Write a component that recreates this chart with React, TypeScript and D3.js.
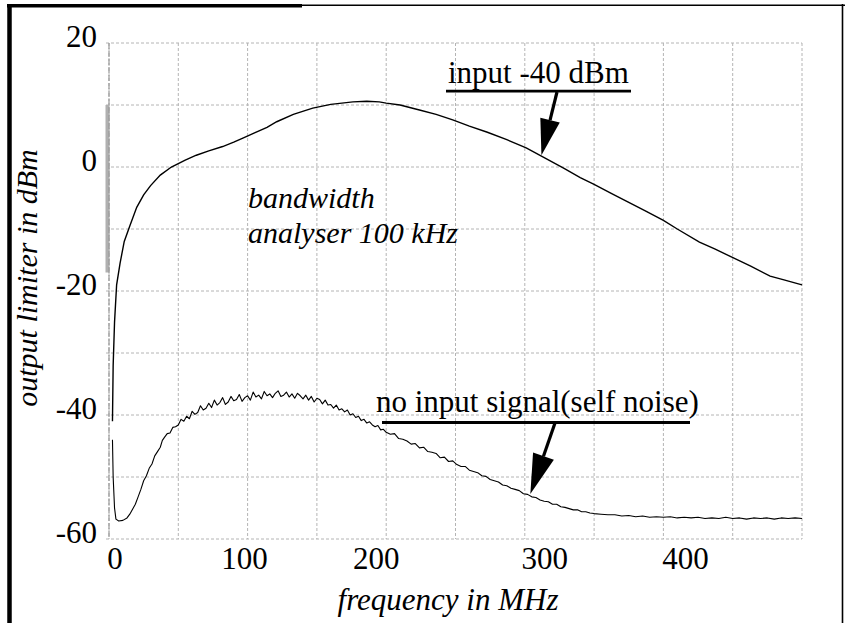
import React from "react";
import * as d3 from "d3";

// Output level of the limiter with a -40 dBm input, [MHz, dBm]
const inputSignal: [number, number][] = [
  [2.5, -41], [3, -32], [4, -25], [5.5, -19], [8, -15.5], [11, -12], [15, -9.5],
  [20, -6.5], [25, -4.5], [30, -3], [37, -1.3], [45, 0], [55, 1.1], [63, 1.9],
  [72, 2.6], [82, 3.3], [90, 4], [97, 4.7], [105, 5.5], [114, 6.4], [121, 7.3],
  [133, 8.5], [147, 9.5], [160, 10.1], [176, 10.5], [186, 10.6], [195, 10.5],
  [200, 10.3], [210, 10], [224, 9.2], [236, 8.5], [248, 7.6], [260, 6.6],
  [273, 5.6], [287, 4.4], [301, 3.1], [314, 1.5], [328, -0.2], [340, -1.7],
  [350, -2.8], [362, -4.2], [375, -5.7], [388, -7.2], [400, -8.6], [410, -10],
  [426, -12.1], [437, -13.2], [449, -14.5], [463, -16], [477, -17.6],
  [487, -18.2], [500, -19],
];

// Self noise of the limiter with no input signal, [MHz, dBm]
const selfNoise: [number, number][] = [
  [2.5, -44], [3, -50], [4, -55], [5, -56.8], [7, -57.1], [10, -57], [13, -56.6],
  [15, -56], [17, -55.2], [19, -54.4], [21, -53.2], [23, -52], [25, -50.6],
  [27, -49.8], [29, -48.6], [31, -47.9], [33, -46.6], [35, -45.9], [37, -45.2],
  [38.5, -44.1], [40, -43.6], [42, -43.0], [44, -42.9], [46, -42.0], [48, -41.9],
  [50, -41.6], [52, -40.7], [54, -41.0], [56, -40.2], [58, -40.6], [60, -39.4],
  [62, -39.9], [64, -39.6], [66, -38.5], [68, -39.2], [70, -38.9], [72, -38.1],
  [74, -38.8], [76, -37.6], [78, -38.4], [80, -38.0], [82, -37.2], [84, -38.3],
  [86, -37.9], [88, -37.0], [90, -37.7], [92, -37.5], [94, -36.7], [96, -37.8],
  [98, -37.2], [100, -36.9], [102, -37.6], [104, -36.3], [106, -37.1],
  [108, -36.8], [110, -37.4], [112, -36.2], [114, -36.9], [116, -36.6],
  [118, -37.2], [120, -36.5], [122, -36.1], [124, -37.0], [126, -36.8],
  [128, -36.3], [130, -37.1], [132, -36.6], [134, -37.3], [136, -36.5],
  [138, -36.9], [140, -37.4], [142, -36.8], [144, -37.6], [146, -37.0],
  [148, -37.9], [150, -37.3], [152, -37.5], [154, -38.2], [156, -37.6],
  [158, -38.4], [160, -38.3], [162, -38.9], [164, -38.4], [166, -39.2],
  [168, -39.0], [170, -39.5], [172, -39.2], [174, -40.0], [176, -39.8],
  [178, -40.4], [180, -40.2], [182, -40.9], [184, -40.7], [186, -41.3],
  [188, -41.1], [190, -41.6], [192, -41.9], [194, -41.7], [196, -42.4],
  [198, -42.3], [200, -42.8], [203, -43.1], [206, -43.0], [209, -43.8],
  [212, -43.9], [215, -44.2], [218, -44.7], [221, -44.6], [224, -45.3],
  [227, -45.2], [230, -45.9], [233, -46.0], [236, -46.2], [239, -46.9],
  [242, -46.8], [245, -47.5], [248, -47.4], [251, -48.0], [254, -48.3],
  [257, -48.3], [260, -48.9], [263, -49.1], [266, -49.3], [269, -49.8],
  [272, -49.9], [275, -50.4], [278, -50.6], [281, -50.8], [284, -51.3],
  [287, -51.4], [290, -51.8], [293, -52.0], [296, -52.2], [299, -52.7],
  [302, -52.8], [305, -53.2], [308, -53.3], [311, -53.7], [314, -53.9],
  [317, -54.0], [320, -54.4], [323, -54.4], [326, -54.8], [329, -54.9],
  [332, -55.1], [335, -55.3], [338, -55.3], [341, -55.6], [344, -55.6],
  [347, -55.8], [350, -55.9], [355, -56.0], [360, -56.1], [365, -56.1],
  [370, -56.3], [375, -56.2], [380, -56.4], [385, -56.3], [390, -56.5],
  [395, -56.4], [400, -56.5], [405, -56.4], [410, -56.6], [415, -56.5],
  [420, -56.6], [425, -56.5], [430, -56.7], [435, -56.6], [440, -56.7],
  [445, -56.5], [450, -56.7], [455, -56.6], [460, -56.8], [465, -56.6],
  [470, -56.7], [475, -56.6], [480, -56.8], [485, -56.6], [490, -56.7],
  [495, -56.6], [500, -56.7],
];

const freqTicks = [0, 100, 200, 300, 400];
const levelTicks = [20, 0, -20, -40, -60];
const freqGrid = d3.range(0, 501, 50);
const levelGrid = d3.range(-60, 21, 10);

// Frequencies the two call-out arrows point at
const inputArrowFreq = 312;
const noiseArrowFreq = 304;

const W = 845;
const H = 623;
const serif = "'Liberation Serif', 'Times New Roman', Times, serif";

// Horizontal offsets of the frequency tick labels relative to their ticks
const tickLabelShift = [6, -3, -10, 20, 22];

function valueAt(series: [number, number][], f: number): number {
  const i = d3.bisector((d: [number, number]) => d[0]).left(series, f);
  if (i <= 0) return series[0][1];
  if (i >= series.length) return series[series.length - 1][1];
  const [f0, v0] = series[i - 1];
  const [f1, v1] = series[i];
  return v0 + ((v1 - v0) * (f - f0)) / (f1 - f0);
}

function Arrow({ x1, y1, x2, y2, head, half }: { x1: number; y1: number; x2: number; y2: number; head: number; half: number }) {
  const dx = x2 - x1;
  const dy = y2 - y1;
  const len = Math.hypot(dx, dy);
  const ux = dx / len;
  const uy = dy / len;
  const bx = x2 - ux * head;
  const by = y2 - uy * head;
  const px = -uy * half;
  const py = ux * half;
  return (
    <g>
      <line x1={x1} y1={y1} x2={bx} y2={by} stroke="#000" strokeWidth={3.2} />
      <path d={`M${x2},${y2}L${bx + px},${by + py}L${bx - px},${by - py}Z`} fill="#000" />
    </g>
  );
}

export default function App() {
  const x = d3.scaleLinear().domain([0, 500]).range([109, 802]);
  const y = d3.scaleLinear().domain([-60, 20]).range([539, 43]);

  const line = d3
    .line<[number, number]>()
    .x((d) => x(d[0]))
    .y((d) => y(d[1]));

  const inTipX = x(inputArrowFreq);
  const inTipY = y(valueAt(inputSignal, inputArrowFreq)) - 1;
  const nTipX = x(noiseArrowFreq);
  const nTipY = y(valueAt(selfNoise, noiseArrowFreq)) - 2;

  return (
    <svg
      width={W}
      height={H}
      viewBox={`0 0 ${W} ${H}`}
      style={{ position: "absolute", left: 0, top: 0, display: "block", background: "#fff" }}
    >
      <rect x={0} y={0} width={W} height={H} fill="#fff" />

      {/* frame */}
      <line x1={9.5} y1={4} x2={9.5} y2={H} stroke="#000" strokeWidth={4.5} />
      <line x1={7} y1={5.7} x2={302} y2={5.7} stroke="#000" strokeWidth={3.6} />
      <line x1={302} y1={5.2} x2={W} y2={5.2} stroke="#000" strokeWidth={1.6} />
      <line x1={842.5} y1={4} x2={842.5} y2={H} stroke="#000" strokeWidth={1.6} />

      {/* grid */}
      <g stroke="#b4b4b4" strokeWidth={1} strokeDasharray="3 2" fill="none">
        {levelGrid.map((v) => (
          <line key={`h${v}`} x1={x(0) - 3} x2={x(500)} y1={y(v)} y2={y(v)} />
        ))}
        {freqGrid.map((f) => (
          <line key={`v${f}`} x1={x(f)} x2={x(f)} y1={y(20)} y2={y(-60)} />
        ))}
      </g>
      {/* left axis */}
      <line x1={x(0) - 1.5} x2={x(0) - 1.5} y1={y(10)} y2={y(-17)} stroke="#b0b0b0" strokeWidth={4} />
      <line x1={x(0)} x2={x(0)} y1={y(20)} y2={y(-60)} stroke="#999" strokeWidth={1.2} strokeDasharray="6 2" />

      {/* traces */}
      <path d={line(inputSignal) ?? ""} fill="none" stroke="#000" strokeWidth={1.4} />
      <path d={line(selfNoise) ?? ""} fill="none" stroke="#000" strokeWidth={1.1} strokeLinejoin="round" />

      {/* level tick labels */}
      <g style={{ fontFamily: serif }} fontSize={31} fill="#000" textAnchor="end">
        {levelTicks.map((v) => (
          <text key={v} x={97} y={y(v) + 4}>
            {v}
          </text>
        ))}
      </g>

      {/* frequency tick labels */}
      <g style={{ fontFamily: serif }} fontSize={31} fill="#000" textAnchor="middle">
        {freqTicks.map((f, i) => (
          <text key={f} x={x(f) + tickLabelShift[i]} y={569}>
            {f}
          </text>
        ))}
      </g>

      {/* axis titles */}
      <text
        x={448}
        y={610}
        style={{ fontFamily: serif }}
        fontStyle="italic"
        fontSize={31}
        textAnchor="middle"
      >
        frequency in MHz
      </text>
      <text
        transform={`translate(37,278) rotate(-90)`}
        style={{ fontFamily: serif }}
        fontStyle="italic"
        fontSize={30}
        textAnchor="middle"
      >
        output limiter in dBm
      </text>

      {/* measurement note */}
      <g style={{ fontFamily: serif }} fontStyle="italic" fontSize={30}>
        <text x={248} y={208}>bandwidth</text>
        <text x={248} y={243}>analyser 100 kHz</text>
      </g>

      {/* call-outs */}
      <g style={{ fontFamily: serif }} fontSize={31}>
        <text x={448} y={83}>input -40 dBm</text>
        <line x1={446} x2={631} y1={91.2} y2={91.2} stroke="#000" strokeWidth={2.8} />
        <Arrow x1={557} y1={92} x2={inTipX} y2={inTipY} head={36} half={10} />

        <text x={376} y={412}>no input signal(self noise)</text>
        <line x1={382} x2={690} y1={422.5} y2={422.5} stroke="#000" strokeWidth={3} />
        <Arrow x1={555} y1={423} x2={nTipX} y2={nTipY} head={40} half={11} />
      </g>
    </svg>
  );
}
